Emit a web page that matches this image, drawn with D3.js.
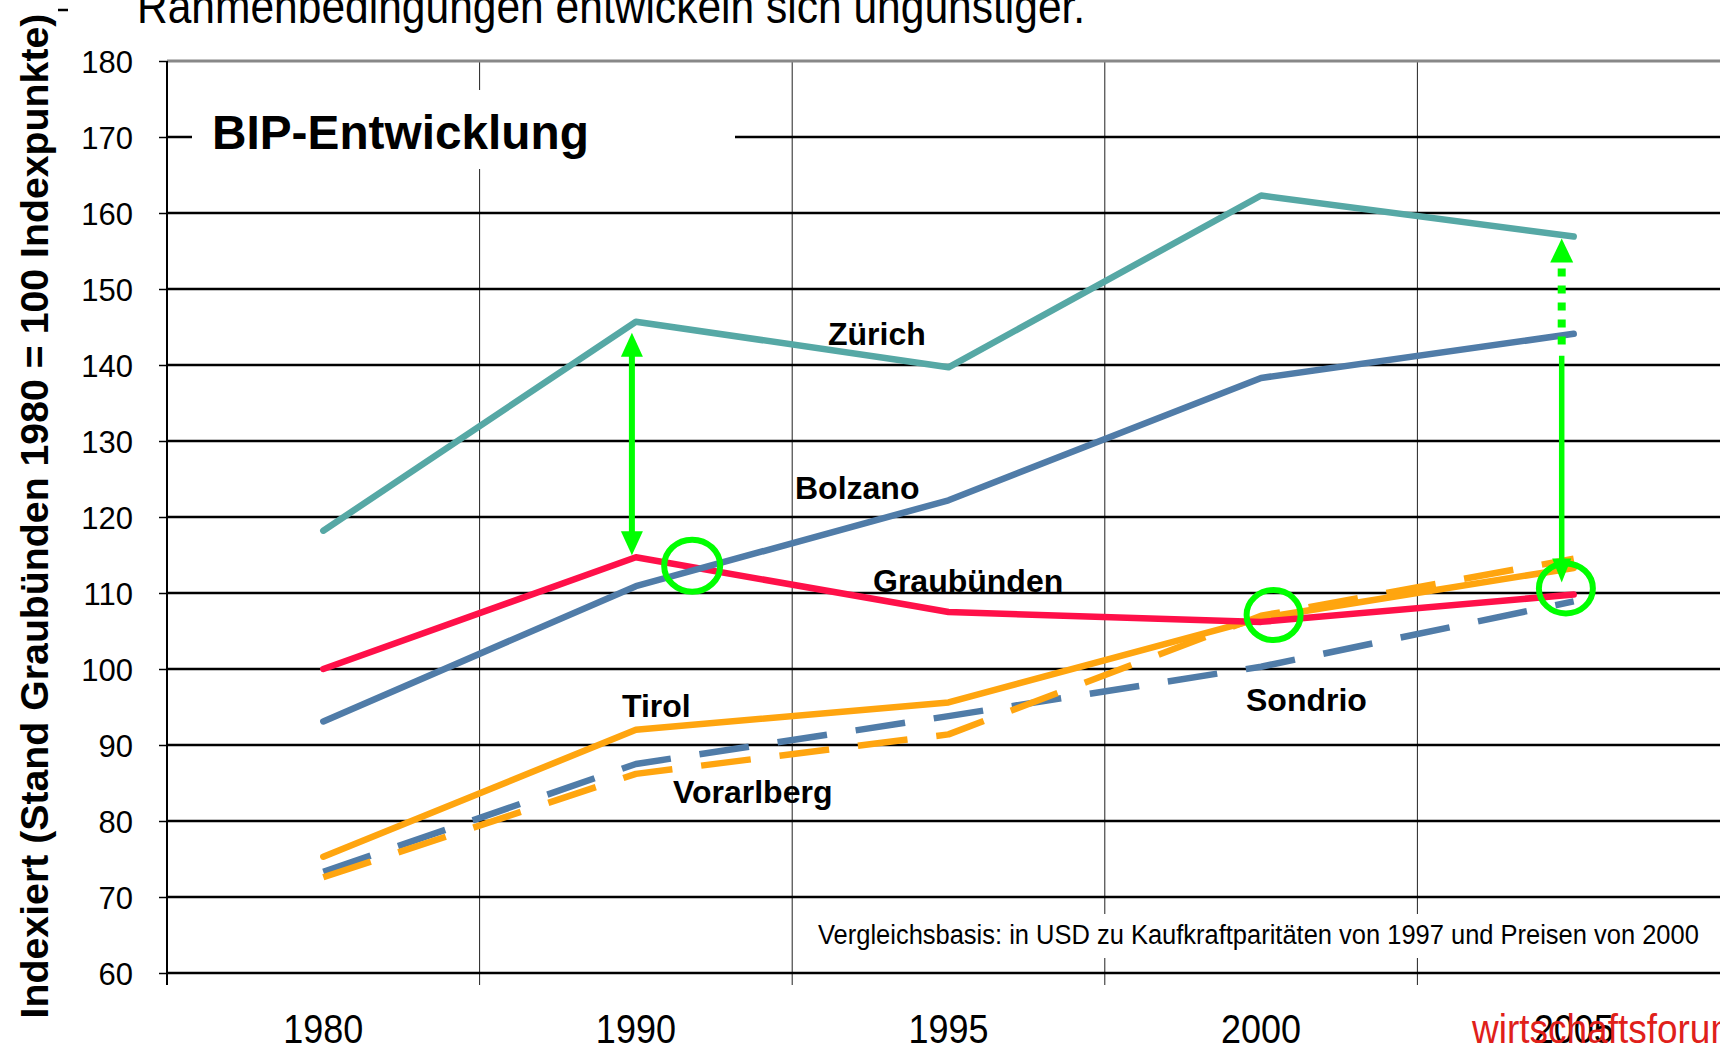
<!DOCTYPE html>
<html><head><meta charset="utf-8">
<script src="https://cdn.jsdelivr.net/npm/d3@7"></script>
<style>
body{margin:0;background:#fff;overflow:hidden;}
svg{display:block;}
text{font-family:"Liberation Sans",Arial,Helvetica,sans-serif;}
</style>
</head><body>
<svg id="chart" width="1720" height="1046"></svg>
<script>
// ---------- DATA ----------
const years = ["1980", "1990", "1995", "2000", "2005"];
const yTickValues = [60, 70, 80, 90, 100, 110, 120, 130, 140, 150, 160, 170, 180];
const zuerich     = [118.2, 145.7, 139.7, 162.3, 156.9];
const bolzano     = [93.1, 110.9, 122.2, 138.3, 144.1];
const graubuenden = [100.0, 114.7, 107.5, 106.2, 109.8];
const tirol       = [75.3, 92.0, 95.6, 106.7, 113.3];
const vorarlberg  = [72.6, 86.2, 91.4, 107.0, 114.5];
const sondrio     = [73.3, 87.5, 93.8, 100.3, 108.9];
const seriesNames = ["Zürich", "Bolzano", "Graubünden", "Tirol", "Vorarlberg", "Sondrio"];
const seriesValues = [zuerich, bolzano, graubuenden, tirol, vorarlberg, sondrio];
// intersection highlights (category index position, value)
const highlightIdx = [1.18, 3.04, 3.975];
const highlightVal = [113.6, 107.1, 110.6];

// ---------- STYLES ----------
const colors = {"Zürich":"#56A8A5","Bolzano":"#507CA8","Graubünden":"#FF1049","Tirol":"#FFA50F","Vorarlberg":"#FFA50F","Sondrio":"#507CA8"};
const dashed = {"Vorarlberg":true,"Sondrio":true};
const green = "#00FF00";

const svg = d3.select("#chart");
const x = d3.scaleBand().domain(years).range([167, 1730]).paddingInner(0).paddingOuter(0);
const y = d3.scaleLinear().domain([60, 180]).range([973, 61]);
const cx = i => x(years[0]) + x.bandwidth()/2 + i * x.step();

// ---------- GRID ----------
const grid = svg.append("g");
grid.selectAll("line.v").data(years.slice(1)).join("line")
  .attr("x1", d => x(d)).attr("x2", d => x(d))
  .attr("y1", y(180)).attr("y2", y(60) + 12)
  .attr("stroke", "#222").attr("stroke-width", 1);
grid.selectAll("line.h").data(yTickValues).join("line")
  .attr("x1", 167).attr("x2", 1730)
  .attr("y1", d => y(d)).attr("y2", d => y(d))
  .attr("stroke", d => d === 180 ? "#888" : "#000")
  .attr("stroke-width", d => d === 180 ? 3 : 2.5);

// y axis
const yAxis = d3.axisLeft(y).tickValues(yTickValues).tickSize(8).tickPadding(26);
const yg = svg.append("g").attr("transform", "translate(167,0)").call(yAxis);
yg.select(".domain").remove();
yg.selectAll(".tick line").attr("stroke", "#000").attr("stroke-width", 1.5);
yg.selectAll(".tick text").attr("font-size", 31).attr("fill", "#000")
  .attr("font-family", "'Liberation Sans',Arial,sans-serif").attr("dy", "0.36em");
svg.append("line").attr("x1", 167).attr("x2", 167).attr("y1", y(180)).attr("y2", y(60) + 12)
  .attr("stroke", "#000").attr("stroke-width", 2);

// x labels
const xAxis = d3.axisBottom(x).tickSize(0).tickPadding(0);
const xg = svg.append("g").call(xAxis);
xg.select(".domain").remove();
xg.selectAll(".tick").each(function(d){
  const g = d3.select(this);
  g.select("text").remove();
  g.append("text").attr("transform", "translate(0,1043) scale(1,1.12)")
    .attr("text-anchor", "middle").attr("font-size", 36).attr("fill", "#000")
    .attr("font-family", "'Liberation Sans',Arial,sans-serif").text(d);
});

// ---------- TEXT BOXES ----------
function fit(t, w){
  const L = t.node().getComputedTextLength();
  t.attr("font-size", parseFloat(t.attr("font-size")) * w / L);
}
svg.append("rect").attr("x", 192).attr("y", 90).attr("width", 543).attr("height", 79).attr("fill", "#fff");
const bip = svg.append("text").attr("x", 212).attr("y", 149).attr("font-size", 48).attr("font-weight", "bold")
  .attr("fill", "#000").text("BIP-Entwicklung");
fit(bip, 377);

svg.append("rect").attr("x", 806).attr("y", 914).attr("width", 910).attr("height", 44).attr("fill", "#fff");
const vb = svg.append("text").attr("transform", "translate(818,944) scale(1,1.12)").attr("font-size", 23).attr("fill", "#000")
  .text("Vergleichsbasis: in USD zu Kaufkraftparitäten von 1997 und Preisen von 2000");
fit(vb, 881);

const topText = svg.append("text").attr("transform", "translate(137,23) scale(1,1.12)").attr("font-size", 38).attr("fill", "#000")
  .text("Rahmenbedingungen entwickeln sich ungünstiger.");
fit(topText, 948);

const yt = svg.append("text").attr("transform", "translate(48,516) rotate(-90)").attr("text-anchor", "middle")
  .attr("font-size", 36).attr("font-weight", "bold").attr("fill", "#000")
  .text("Indexiert (Stand Graubünden 1980 = 100 Indexpunkte)");
fit(yt, 1005);
svg.append("line").attr("x1", 58).attr("x2", 68).attr("y1", 10).attr("y2", 10).attr("stroke", "#000").attr("stroke-width", 2.5);

// ---------- SERIES ----------
const line = d3.line().x((d, i) => x(years[i]) + x.bandwidth()/2).y(d => y(d));
const sg = svg.append("g");
seriesNames.slice().reverse().forEach(name => {
  const vals = seriesValues[seriesNames.indexOf(name)];
  sg.append("path").datum(vals).attr("d", line)
    .attr("fill", "none").attr("stroke", colors[name]).attr("stroke-width", 6.5)
    .attr("stroke-linecap", dashed[name] ? "butt" : "round")
    .attr("stroke-linejoin", "round")
    .attr("stroke-dasharray", dashed[name] ? "50,29" : null);
});

const labelPos = {
  "Zürich":[828,345], "Bolzano":[795,499], "Graubünden":[873,592],
  "Tirol":[622,717], "Vorarlberg":[673,803], "Sondrio":[1246,711]
};
seriesNames.forEach(n => {
  svg.append("text").attr("x", labelPos[n][0]).attr("y", labelPos[n][1])
    .attr("font-size", 32).attr("font-weight", "bold").attr("fill", "#000").text(n);
});

// ---------- ANNOTATIONS ----------
const ann = svg.append("g");
function arrowHead(xp, tip, dir, w, h){
  const base = tip - dir * h;
  ann.append("path").attr("d", `M${xp},${tip} L${xp - w/2},${base} L${xp + w/2},${base} Z`).attr("fill", green);
}
{
  const xp = cx(1) - 4;
  const t = y(zuerich[1]) + 11, b = y(graubuenden[1]) - 2;
  ann.append("line").attr("x1", xp).attr("x2", xp).attr("y1", t + 20).attr("y2", b - 20)
    .attr("stroke", green).attr("stroke-width", 6);
  arrowHead(xp, t, -1, 22, 24);
  arrowHead(xp, b, 1, 22, 24);
}
{
  const xp = cx(4) - 12;
  const t = y(zuerich[4]) + 2, b = y(graubuenden[4]) - 12;
  const split = y(bolzano[4]) + 14;
  ann.append("line").attr("x1", xp).attr("x2", xp).attr("y1", t + 30).attr("y2", split)
    .attr("stroke", green).attr("stroke-width", 8).attr("stroke-dasharray", "8,9");
  ann.append("line").attr("x1", xp).attr("x2", xp).attr("y1", split + 8).attr("y2", b - 20)
    .attr("stroke", green).attr("stroke-width", 5.5);
  arrowHead(xp, t, -1, 23, 24);
  arrowHead(xp, b, 1, 19, 24);
}
const radii = [[28, 26], [27, 25], [27, 25]];
highlightIdx.forEach((hi, k) => {
  ann.append("ellipse").attr("cx", cx(hi)).attr("cy", y(highlightVal[k]))
    .attr("rx", radii[k][0]).attr("ry", radii[k][1])
    .attr("fill", "none").attr("stroke", green).attr("stroke-width", 6);
});

svg.append("text").attr("transform", "translate(1472,1043) scale(1,1.12)").attr("font-size", 37)
  .attr("fill", "#E0201A").text("wirtschaftsforum");
</script>
</body></html>
